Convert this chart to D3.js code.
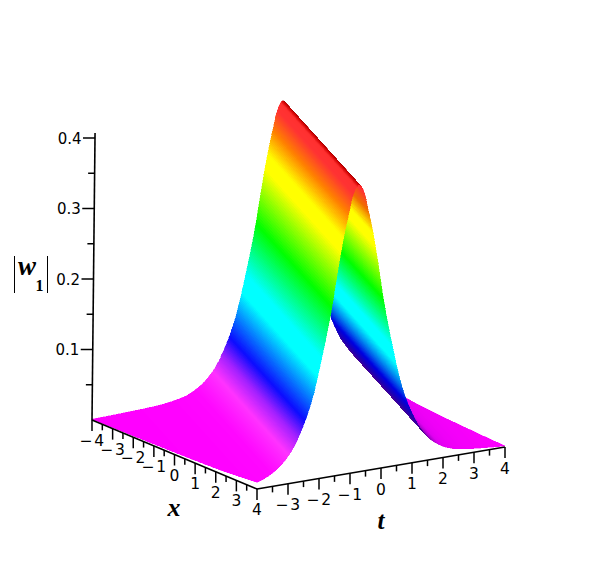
<!DOCTYPE html>
<html lang="en">
<head>
<meta charset="UTF-8">
<title>w1 surface</title>
<script src="https://cdn.jsdelivr.net/npm/d3@7"></script>
<style>
  html, body { margin: 0; background: #fff; }
  text { font-family: "DejaVu Sans", sans-serif; font-size: 15.5px; fill: #000; }
  .name { font-family: "Liberation Serif", serif; font-weight: bold; font-style: italic; }
</style>
</head>
<body>
<svg width="600" height="580"></svg>
<script>
// the ridge runs straight across the x range
const xTicks = [-4, -3, -2, -1, 0, 1, 2, 3, 4];
const tTicks = [-3, -2, -1, 0, 1, 2, 3, 4];
const xMinor = [-3.5, -2.5, -1.5, -0.5, 0.5, 1.5, 2.5, 3.5];
const tMinor = [-3.5, -2.5, -1.5, -0.5, 0.5, 1.5, 2.5, 3.5];
const zTicks = [0.1, 0.2, 0.3, 0.4];
const zMinor = [0.05, 0.15, 0.25, 0.35];

const ridgeX = [-4, 4];
const ridgeT = [2.06, -0.81];

// |w1| against the distance from the ridge, along t
const profileU = [-6.4, -5, -4, -3.25, -2.9, -2.5, -2.25, -2, -1.75, -1.55, -1.4, -1.25, -1, -0.85, -0.7, -0.5, -0.4, -0.3, -0.2, -0.1, 0,
  0.1, 0.2, 0.3, 0.4, 0.5, 0.7, 0.85, 1, 1.25, 1.4, 1.55, 1.75, 2, 2.25, 2.5, 2.9, 3.25, 4, 5];
const profileW = [0.001, 0.0025, 0.0045, 0.009, 0.014, 0.025, 0.036, 0.052, 0.075, 0.098, 0.12, 0.148, 0.2, 0.235, 0.277, 0.33, 0.352, 0.372, 0.392, 0.403, 0.408,
  0.403, 0.392, 0.372, 0.352, 0.33, 0.277, 0.235, 0.2, 0.148, 0.12, 0.098, 0.075, 0.052, 0.036, 0.025, 0.014, 0.009, 0.0045, 0.0015];

// colour against height, front and back of the sheet
const hueZ = [0, 0.018, 0.04, 0.062, 0.085, 0.145, 0.17, 0.24, 0.315, 0.335, 0.368, 0.395, 0.405, 0.408];
const frontHue = ["#ff00ff", "#ff08ff", "#ff33ff", "#a020ff", "#0c0cff", "#00ffff", "#00ffff", "#00ff00", "#ffff00", "#ffff00", "#ff8000", "#ff3333", "#ff3030", "#d00000"];
const backHue = ["#ff00ff", "#e000f0", "#500090", "#2000b0", "#0000e0", "#00ffff", "#00ffff", "#00ff00", "#ffff00", "#ffff00", "#f07000", "#ff3333", "#ff2020", "#a00000"];

const svg = d3.select("svg");

const xX = d3.scaleLinear().domain([-4, 4]).range([0, 165]);
const xY = d3.scaleLinear().domain([-4, 4]).range([0, 69]);
const tX = d3.scaleLinear().domain([-4, 4]).range([0, 248]);
const tY = d3.scaleLinear().domain([-4, 4]).range([0, -42]);
const zX = d3.scaleLinear().domain([0, 0.4]).range([0, 3]);
const zY = d3.scaleLinear().domain([0, 0.4]).range([0, -282]);

function project(x, t, z) {
  return [92 + xX(x) + tX(t) + zX(z), 420 + xY(x) + tY(t) + zY(z)];
}

const ridge = d3.scaleLinear().domain(ridgeX).range(ridgeT);
const frontColor = d3.scaleLinear().domain(hueZ).range(frontHue);
const backColor = d3.scaleLinear().domain(hueZ).range(backHue);

// curve through the read points, so the outline has no kinks
const slopes = profileU.map((u, i) => {
  if (i == 0 || i == profileU.length - 1) return 0;
  const a = (profileW[i] - profileW[i - 1]) / (u - profileU[i - 1]);
  const b = (profileW[i + 1] - profileW[i]) / (profileU[i + 1] - u);
  return a * b <= 0 ? 0 : 2 * a * b / (a + b);
});
function wOf(u) {
  const n = profileU.length;
  if (u <= profileU[0]) return profileW[0];
  if (u >= profileU[n - 1]) return profileW[n - 1];
  const i = Math.min(d3.bisectRight(profileU, u) - 1, n - 2);
  const h = profileU[i + 1] - profileU[i], s = (u - profileU[i]) / h;
  return (1 + 2 * s) * (1 - s) * (1 - s) * profileW[i]
    + s * (1 - s) * (1 - s) * h * slopes[i]
    + s * s * (3 - 2 * s) * profileW[i + 1]
    + s * s * (s - 1) * h * slopes[i + 1];
}

// the part of the line t = ridge(x) + u that lies inside the square
function segment(u) {
  const rInv = d3.scaleLinear().domain(ridgeT).range(ridgeX);
  let a = rInv(4 - u), b = rInv(-4 - u);
  a = Math.max(-4, a);
  b = Math.min(4, b);
  return [a, b];
}

// cut the sheet in thin strips of equal u, keeping the corners of the square
const corners = [[-4, -4], [-4, 4], [4, -4], [4, 4]].map(c => c[1] - ridge(c[0]));
const uMin = d3.min(corners), uMax = d3.max(corners);
let us = d3.range(uMin, uMax, 0.012).concat(corners).sort(d3.ascending);

// far strips first, the viewer looks from the negative u side
const strips = d3.pairs(us).filter(p => p[1] > p[0]).reverse();
const stripColor = p => {
  const u = (p[0] + p[1]) / 2;
  return (u > 0 ? backColor : frontColor)(wOf(u));
};

svg.append("g").selectAll("path").data(strips).join("path")
  .attr("d", p => {
    const [a0, b0] = segment(p[0]), [a1, b1] = segment(p[1]);
    const pts = [[a0, p[0]], [b0, p[0]], [b1, p[1]], [a1, p[1]]]
      .map(q => project(q[0], ridge(q[0]) + q[1], wOf(q[1])));
    return d3.line()(pts) + "Z";
  })
  .attr("fill", stripColor)
  .attr("stroke", stripColor)
  .attr("stroke-width", 0.4)
  .attr("shape-rendering", "crispEdges");

const axes = svg.append("g").attr("stroke", "#000").attr("fill", "none");
function line3(a, b, w) {
  axes.append("line")
    .attr("x1", a[0]).attr("y1", a[1]).attr("x2", b[0]).attr("y2", b[1])
    .attr("stroke-width", w);
}

line3(project(-4, -4, 0), project(4, -4, 0), 1.6);
line3(project(4, -4, 0), project(4, 4, 0), 1.6);
line3(project(-4, -4, 0), project(-4, -4, 0.407), 1.6);

xTicks.forEach(v => { const p = project(v, -4, 0); line3(p, [p[0], p[1] + 11], 1.5); });
xMinor.forEach(v => { const p = project(v, -4, 0); line3(p, [p[0], p[1] + 6], 1.5); });
tTicks.forEach(v => { const p = project(4, v, 0); line3(p, [p[0], p[1] + 11], 1.5); });
tMinor.forEach(v => { const p = project(4, v, 0); line3(p, [p[0], p[1] + 6], 1.5); });
zTicks.forEach(v => { const p = project(-4, -4, v); line3(p, [p[0] - 12, p[1]], 1.5); });
zMinor.forEach(v => { const p = project(-4, -4, v); line3(p, [p[0] - 6.5, p[1]], 1.5); });

const tickLabel = v => v < 0 ? "\u2212\u200a" + Math.abs(v) : String(v);

svg.append("g").selectAll("text").data(xTicks).join("text")
  .attr("x", v => project(v, -4, 0)[0])
  .attr("y", v => project(v, -4, 0)[1] + 26)
  .attr("text-anchor", "middle")
  .text(tickLabel);

svg.append("g").selectAll("text").data(tTicks).join("text")
  .attr("x", v => project(4, v, 0)[0])
  .attr("y", v => project(4, v, 0)[1] + 26.5)
  .attr("text-anchor", "middle")
  .text(tickLabel);

svg.append("g").selectAll("text").data(zTicks).join("text")
  .attr("x", v => project(-4, -4, v)[0] - 13.5)
  .attr("y", v => project(-4, -4, v)[1] + 5.5)
  .attr("text-anchor", "end")
  .style("font-size", "15px")
  .text(d3.format(".1f"));

svg.append("text").attr("class", "name").attr("x", 174).attr("y", 515.5)
  .attr("text-anchor", "middle").style("font-size", "26px").text("x");
svg.append("text").attr("class", "name").attr("x", 381).attr("y", 529)
  .attr("text-anchor", "middle").style("font-size", "25px").text("t");

svg.append("line").attr("x1", 14.5).attr("x2", 14.5).attr("y1", 256).attr("y2", 293).attr("stroke", "#000");
svg.append("line").attr("x1", 47.5).attr("x2", 47.5).attr("y1", 256).attr("y2", 293).attr("stroke", "#000");
svg.append("text").attr("class", "name").attr("x", 18).attr("y", 275).style("font-size", "27px").text("w");
svg.append("text").attr("class", "name").attr("x", 35.5).attr("y", 290.5).style("font-size", "16px").style("font-style", "normal").text("1");
</script>
</body>
</html>
